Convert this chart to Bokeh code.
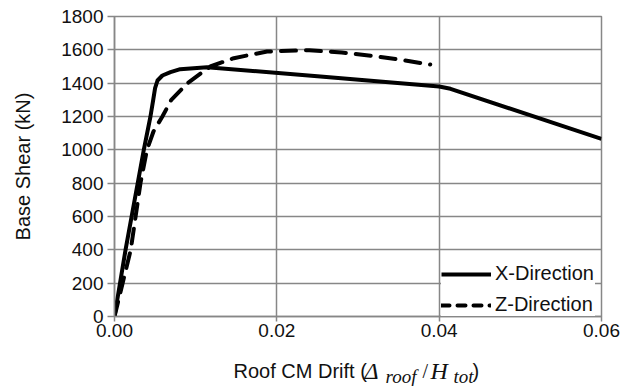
from bokeh.plotting import figure
from bokeh.models import (Range1d, FixedTicker, NumeralTickFormatter, LegendItem,
                          ColumnDataSource)
from bokeh.layouts import column
from bokeh.core.properties import value
from bokeh.embed import file_html
from bokeh.resources import INLINE

# Pushover curves: roof drift ratio vs. base shear (kN)
x_dir_drift = [0.0, 0.00136, 0.00361, 0.00443, 0.00477, 0.00500, 0.00530, 0.00590,
               0.0069, 0.0081, 0.0114, 0.025, 0.040, 0.0414, 0.060]
x_dir_shear = [0, 400, 1000, 1200, 1300, 1370, 1416, 1446,
               1466, 1484, 1496, 1441, 1380, 1366, 1066]

z_dir_drift = [0.0, 0.0010, 0.0020, 0.0026, 0.0032, 0.0040, 0.0048, 0.0059, 0.0070,
               0.0090, 0.0118, 0.0147, 0.0188, 0.024, 0.028, 0.032, 0.035, 0.0389]
z_dir_shear = [0, 200, 400, 600, 800, 1000, 1110, 1200, 1300,
               1400, 1500, 1550, 1590, 1598, 1584, 1562, 1542, 1512]

x_ticks = [0.0, 0.02, 0.04, 0.06]
y_ticks = [0, 200, 400, 600, 800, 1000, 1200, 1400, 1600, 1800]
series_names = ["X-Direction", "Z-Direction"]

SANS = "Liberation Sans"
SERIF = "Liberation Serif"
GRID = "#878787"
INK = "#111111"

BORDER_L, BORDER_R = 114, 32

p = figure(width=633, height=350, output_backend="svg", toolbar_location=None,
           title=None,
           x_range=Range1d(0, 0.06), y_range=Range1d(0, 1800),
           min_border_left=BORDER_L, min_border_right=BORDER_R,
           min_border_top=16, min_border_bottom=34)
p.background_fill_color = "white"
p.border_fill_color = "white"
p.outline_line_color = GRID
p.outline_line_width = 1.5

src_x = ColumnDataSource(dict(x=x_dir_drift, y=x_dir_shear))
src_z = ColumnDataSource(dict(x=z_dir_drift, y=z_dir_shear))

p.line("x", "y", source=src_x, line_color="black", line_width=4, line_join="round",
       legend_label=series_names[0])
p.line("x", "y", source=src_z, line_color="black", line_width=4,
       line_dash="15 10", line_cap="round", line_join="round")

# key swatch for the dashed series: a shorter dash, plotted on a range kept off-frame
p.extra_y_ranges = {"key": Range1d(-5000, -4000)}
key_z = p.line("x", "y", source=src_z, y_range_name="key", line_color="black",
               line_width=4, line_dash="8 8", line_cap="round")

for ax in (p.xaxis, p.yaxis):
    ax.axis_line_color = GRID
    ax.axis_line_width = 1.5
    ax.major_tick_line_color = GRID
    ax.major_tick_line_width = 1.5
    ax.major_tick_in = 0
    ax.minor_tick_line_color = None
    ax.major_label_text_font = SANS
    ax.major_label_text_font_size = "19px"
    ax.major_label_text_color = INK

p.xaxis.ticker = FixedTicker(ticks=x_ticks)
p.xaxis.formatter = NumeralTickFormatter(format="0.00")
p.xaxis.major_tick_out = 5
p.xaxis.major_label_standoff = 2

p.yaxis.ticker = FixedTicker(ticks=y_ticks)
p.yaxis.major_tick_out = 7
p.yaxis.major_label_standoff = 4
p.yaxis.axis_label = "Base Shear (kN)"
p.yaxis.axis_label_text_font = SANS
p.yaxis.axis_label_text_font_size = "20px"
p.yaxis.axis_label_text_font_style = "normal"
p.yaxis.axis_label_text_color = INK
p.yaxis.axis_label_standoff = 24

p.xgrid.ticker = FixedTicker(ticks=x_ticks)
p.ygrid.ticker = FixedTicker(ticks=y_ticks)
for g in (p.xgrid, p.ygrid):
    g.grid_line_color = GRID
    g.grid_line_width = 1.5

leg = p.legend[0]
leg.items.append(LegendItem(label=series_names[1], renderers=[key_z]))
leg.location = (327, 0)
leg.padding = 2
leg.margin = 0
leg.spacing = 8
leg.glyph_width = 50
leg.glyph_height = 20
leg.label_height = 20
leg.label_width = 100
leg.label_standoff = 4
leg.label_text_font = SANS
leg.label_text_font_size = "20px"
leg.label_text_color = INK
leg.border_line_color = None
leg.background_fill_color = "white"
leg.background_fill_alpha = 1.0

# x-axis title strip: plain text plus italic math symbols.
# Same side borders as the chart, range in page pixels.
t = figure(width=633, height=36, output_backend="svg", toolbar_location=None,
           title=None,
           x_range=Range1d(BORDER_L, 633 - BORDER_R), y_range=Range1d(36, 0),
           min_border_left=BORDER_L, min_border_right=BORDER_R,
           min_border_top=0, min_border_bottom=0, outline_line_color=None)
t.axis.visible = False
t.grid.visible = False
t.background_fill_color = "white"
t.border_fill_color = "white"

title_parts = [
    ("Roof CM Drift (", 233, 20, SANS, "20px", "normal"),
    ("\u0394", 364, 20, SERIF, "24px", "italic"),
    ("roof", 385, 26, SERIF, "19px", "italic"),
    ("/", 422, 20, SERIF, "20px", "normal"),
    ("H", 430, 20, SERIF, "24px", "italic"),
    ("tot", 453, 26, SERIF, "19px", "italic"),
    (")", 472, 20, SANS, "20px", "normal"),
]
for txt, tx, ty, font, size, style in title_parts:
    t.text(x=[tx], y=[ty], text=[txt], text_font=value(font), text_font_size=size,
           text_font_style=style, text_color=INK, text_align="left",
           text_baseline="alphabetic")

layout = column(p, t, spacing=0)
open("out.html", "w").write(file_html(layout, INLINE))
